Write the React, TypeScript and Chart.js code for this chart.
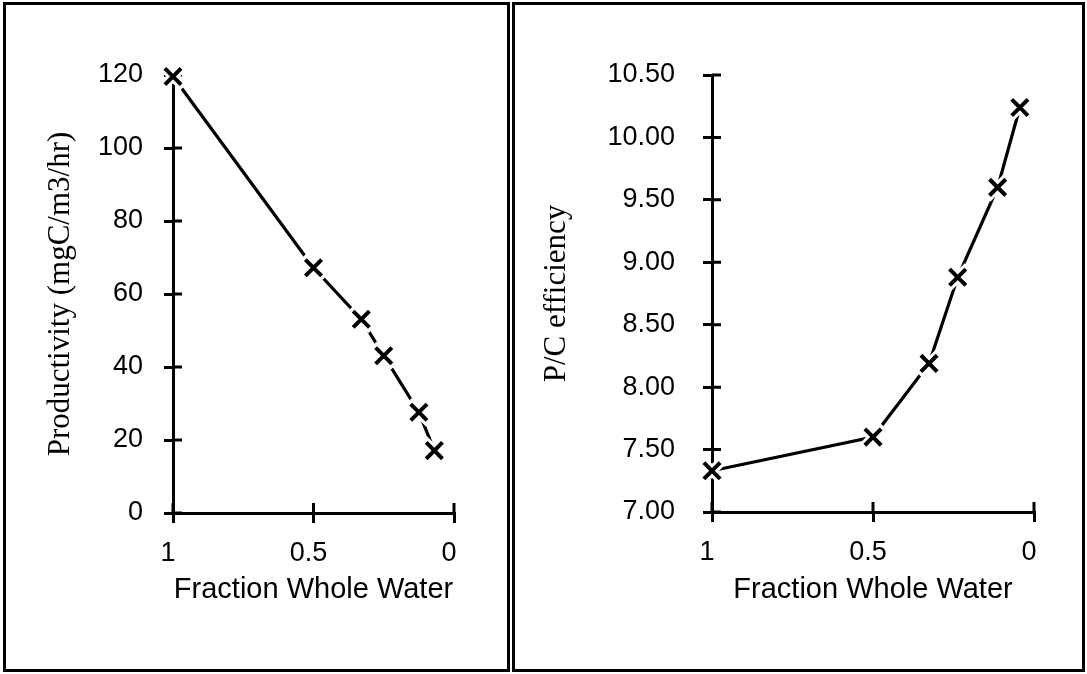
import React, { useEffect, useRef } from 'react';
import { Chart, registerables } from 'chart.js';

Chart.register(...registerables);

// ---- data ----
const xTickValues = [1, 0.5, 0];
const xTitle = 'Fraction Whole Water';

const prodFraction = [1, 0.5, 0.33, 0.25, 0.125, 0.07];
const productivity = [119.6, 67.2, 53.1, 43.1, 27.6, 17.1];
const prodTicks = [0, 20, 40, 60, 80, 100, 120];
const prodTitle = 'Productivity (mgC/m3/hr)';

const effFraction = [1, 0.5, 0.326, 0.237, 0.113, 0.044];
const efficiency = [7.33, 7.6, 8.19, 8.88, 9.6, 10.24];
const effTicks = [7, 7.5, 8, 8.5, 9, 9.5, 10, 10.5];
const effTitle = 'P/C efficiency';

const W = 1087;
const H = 674;
const SANS = '"Liberation Sans", Arial, Helvetica, sans-serif';
const SERIF = '"Liberation Serif", "Times New Roman", serif';

const crossTicks = {
  id: 'crossTicks',
  beforeDatasetsDraw(chart: any, _args: any, opts: any) {
    const { ctx, chartArea, scales } = chart;
    const x = scales.x;
    const y = scales.y;
    ctx.save();
    ctx.strokeStyle = '#000';
    ctx.lineWidth = 3;
    ctx.beginPath();
    y.ticks.forEach((t: any) => {
      const py = y.getPixelForValue(t.value);
      ctx.moveTo(chartArea.left, py);
      ctx.lineTo(chartArea.left + (opts.y || 9), py);
    });
    x.ticks.forEach((t: any) => {
      const px = x.getPixelForValue(t.value);
      ctx.moveTo(px, chartArea.bottom);
      ctx.lineTo(px, chartArea.bottom - (opts.x || 10));
    });
    ctx.stroke();
    ctx.restore();
  },
};

interface Params {
  xs: number[];
  ys: number[];
  yTicks: number[];
  yMin: number;
  yMax: number;
  yTitle: string;
  yDecimals: number;
  padLeft: number;
  padRight: number;
  padTop: number;
  padBottom: number;
  yWidth: number;
  xHeight: number;
  yTitlePad: number;
  yTickPad: number;
}

function makeConfig(p: Params): any {
  const pts = p.xs.map((x, i) => ({ x, y: p.ys[i] }));
  return {
    type: 'scatter',
    data: {
      datasets: [
        {
          data: pts,
          showLine: false,
          pointStyle: 'crossRot',
          pointRadius: 11.5,
          pointBorderWidth: 4,
          pointBorderColor: '#000',
          pointBackgroundColor: '#000',
          order: 1,
          clip: false,
        },
        {
          data: pts,
          showLine: true,
          borderColor: '#000',
          borderWidth: 3.2,
          pointStyle: 'crossRot',
          pointRadius: 15,
          pointBorderWidth: 10,
          pointBorderColor: '#fff',
          pointBackgroundColor: '#fff',
          order: 2,
          clip: false,
        },
      ],
    },
    options: {
      animation: false,
      responsive: false,
      events: [],
      layout: {
        padding: { left: p.padLeft, right: p.padRight, top: p.padTop, bottom: p.padBottom },
      },
      plugins: {
        legend: { display: false },
        tooltip: { enabled: false },
        crossTicks: { x: 10, y: 9 },
      },
      scales: {
        x: {
          type: 'linear',
          min: 0,
          max: 1,
          reverse: true,
          afterBuildTicks: (s: any) => {
            s.ticks = xTickValues.map((v) => ({ value: v }));
          },
          afterFit: (s: any) => {
            s.height = p.xHeight;
          },
          border: { display: true, color: '#000', width: 3 },
          grid: { drawOnChartArea: false, drawTicks: true, tickLength: 10, color: '#000', lineWidth: 3 },
          ticks: {
            color: '#000',
            font: { family: SANS, size: 27 },
            padding: 14,
            labelOffset: -5,
            maxRotation: 0,
            autoSkip: false,
            callback: (v: number) => String(v),
          },
          title: {
            display: true,
            text: xTitle,
            color: '#000',
            font: { family: SANS, size: 29 },
            padding: { top: 0, bottom: 27 },
          },
        },
        y: {
          type: 'linear',
          min: p.yMin,
          max: p.yMax,
          afterBuildTicks: (s: any) => {
            s.ticks = p.yTicks.map((v) => ({ value: v }));
          },
          afterFit: (s: any) => {
            s.width = p.yWidth;
          },
          border: { display: true, color: '#000', width: 3 },
          grid: { drawOnChartArea: false, drawTicks: true, tickLength: 9, color: '#000', lineWidth: 3 },
          ticks: {
            color: '#000',
            font: { family: SANS, size: 27 },
            padding: p.yTickPad,
            autoSkip: false,
            callback: (v: number) => Number(v).toFixed(p.yDecimals),
          },
          title: {
            display: true,
            text: p.yTitle,
            color: '#000',
            font: { family: SERIF, size: 31 },
            padding: { top: p.yTitlePad, bottom: 0 },
          },
        },
      },
    },
    plugins: [crossTicks],
  };
}

function ChartCanvas({ params }: { params: Params }) {
  const ref = useRef<HTMLCanvasElement | null>(null);
  useEffect(() => {
    if (!ref.current) return;
    const chart = new Chart(ref.current, makeConfig(params));
    return () => chart.destroy();
  }, []);
  return (
    <canvas
      ref={ref}
      width={W}
      height={H}
      style={{ position: 'absolute', left: 0, top: 0, width: W, height: H }}
    />
  );
}

const leftParams: Params = {
  xs: prodFraction,
  ys: productivity,
  yTicks: prodTicks,
  yMin: 0,
  yMax: 120,
  yTitle: prodTitle,
  yDecimals: 0,
  padLeft: 0,
  padRight: W - 454,
  padTop: 75,
  padBottom: 40,
  yWidth: 173,
  xHeight: 121,
  yTitlePad: 42,
  yTickPad: 21,
};

const rightParams: Params = {
  xs: effFraction,
  ys: efficiency,
  yTicks: effTicks,
  yMin: 7,
  yMax: 10.5,
  yTitle: effTitle,
  yDecimals: 2,
  padLeft: 515,
  padRight: W - 1034,
  padTop: 75,
  padBottom: 40,
  yWidth: 197,
  xHeight: 122,
  yTitlePad: 23,
  yTickPad: 28,
};

export default function App() {
  return (
    <div
      style={{
        position: 'absolute',
        left: 0,
        top: 0,
        width: W,
        height: H,
        background: '#fff',
        overflow: 'hidden',
      }}
    >
      <div
        style={{
          position: 'absolute',
          left: 3,
          top: 2,
          width: 507,
          height: 670,
          border: '3px solid #000',
          boxSizing: 'border-box',
        }}
      />
      <div
        style={{
          position: 'absolute',
          left: 512,
          top: 2,
          width: 573,
          height: 670,
          border: '3px solid #000',
          boxSizing: 'border-box',
        }}
      />
      <ChartCanvas params={leftParams} />
      <ChartCanvas params={rightParams} />
    </div>
  );
}
